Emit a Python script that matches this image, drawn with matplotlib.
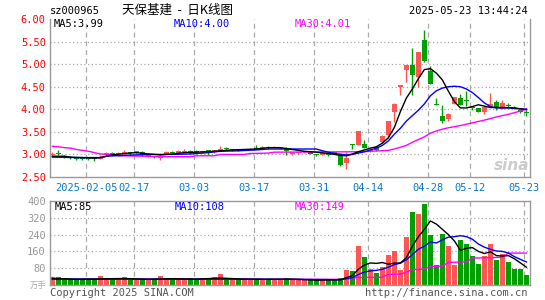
import matplotlib
matplotlib.use('Agg')
import matplotlib.pyplot as plt

W, H = 545, 300

# datas dos rótulos do eixo x (índice do pregão -> texto)
date_idx = [6, 14, 24, 34, 44, 53, 63, 70, 79]
date_lbl = ['2025-02-05', '02-17', '03-03', '03-17', '03-31', '04-14', '04-28', '05-12', '05-23']

# OHLC (80 pregões)
opens = [2.99, 3.03, 2.97, 2.95, 2.93, 2.92, 2.91, 2.92, 2.90, 2.98,
         3.04, 3.00, 3.02, 3.04, 3.03, 3.05, 2.95, 2.96, 2.93, 3.02,
         3.05, 3.04, 3.05, 3.06, 3.06, 3.05, 3.09, 3.05, 3.08, 3.15,
         3.09, 3.11, 3.10, 3.10, 3.15, 3.14, 3.17, 3.15, 3.14, 3.15,
         3.02, 3.03, 3.05, 3.06, 2.99, 2.99, 3.01, 3.05, 2.98, 2.80,
         3.22, 3.21, 3.22, 3.08, 3.17, 3.28, 3.43, 3.95, 4.50, 4.87,
         4.98, 4.71, 5.54, 4.85, 4.11, 3.85, 3.79, 4.12, 4.26, 4.21,
         4.05, 4.02, 3.93, 4.05, 4.17, 4.01, 4.10, 4.06, 3.98, 3.93]
highs = [3.05, 3.10, 2.98, 2.96, 2.94, 2.93, 2.92, 2.93, 2.99, 3.05,
         3.05, 3.05, 3.10, 3.06, 3.08, 3.07, 2.99, 2.97, 2.98, 3.07,
         3.08, 3.09, 3.11, 3.09, 3.09, 3.08, 3.10, 3.10, 3.19, 3.16,
         3.12, 3.12, 3.12, 3.14, 3.21, 3.18, 3.18, 3.19, 3.16, 3.16,
         3.06, 3.06, 3.08, 3.08, 3.00, 3.04, 3.02, 3.06, 3.01, 3.05,
         3.23, 3.51, 3.33, 3.12, 3.18, 3.42, 3.75, 4.13, 4.54, 4.99,
         5.35, 5.27, 5.76, 4.95, 4.24, 4.10, 3.92, 4.28, 4.33, 4.40,
         4.06, 4.03, 4.07, 4.35, 4.21, 4.21, 4.13, 4.07, 3.99, 3.98]
lows = [2.96, 2.98, 2.93, 2.90, 2.87, 2.87, 2.88, 2.85, 2.89, 2.97,
        2.99, 2.98, 3.01, 2.99, 3.02, 2.97, 2.94, 2.93, 2.88, 3.00,
        3.02, 3.03, 3.04, 3.02, 3.02, 3.04, 2.98, 3.04, 3.07, 3.10,
        3.08, 3.08, 3.09, 3.09, 3.12, 3.12, 3.13, 3.14, 3.13, 2.98,
        2.99, 3.01, 3.03, 3.01, 2.96, 2.98, 2.96, 3.01, 2.75, 2.67,
        3.13, 3.20, 3.14, 3.06, 3.07, 3.26, 3.37, 3.71, 4.32, 4.61,
        4.31, 4.50, 5.05, 4.55, 4.09, 3.70, 3.75, 4.11, 4.09, 4.07,
        3.98, 3.94, 3.89, 4.04, 3.99, 4.00, 4.05, 4.00, 3.92, 3.86]
closes = [3.01, 3.00, 2.95, 2.93, 2.90, 2.89, 2.90, 2.89, 2.95, 3.04,
          3.00, 3.04, 3.05, 3.03, 3.07, 3.01, 2.98, 2.94, 2.95, 3.06,
          3.03, 3.08, 3.07, 3.05, 3.05, 3.07, 3.05, 3.09, 3.13, 3.11,
          3.11, 3.09, 3.11, 3.13, 3.13, 3.16, 3.15, 3.17, 3.15, 3.07,
          3.05, 3.05, 3.06, 3.02, 2.98, 3.03, 2.99, 3.02, 2.76, 2.93,
          3.21, 3.51, 3.15, 3.10, 3.10, 3.41, 3.74, 4.12, 4.53, 4.98,
          4.76, 5.26, 5.06, 4.56, 4.10, 3.73, 3.89, 4.27, 4.10, 4.18,
          4.03, 3.95, 4.06, 4.12, 4.05, 4.14, 4.08, 4.04, 3.93, 3.92]

# volume (万手)
volumes = [36, 36, 25, 25, 25, 25, 25, 25, 44, 33,
           25, 25, 36, 25, 25, 25, 25, 25, 44, 33,
           25, 25, 25, 33, 25, 25, 33, 40, 52, 25,
           25, 25, 25, 25, 25, 25, 22, 28, 28, 33,
           26, 22, 22, 22, 22, 22, 22, 22, 33, 72,
           67, 185, 133, 75, 56, 86, 143, 161, 72, 227,
           349, 340, 387, 236, 95, 241, 188, 95, 216, 193,
           138, 99, 138, 193, 119, 150, 110, 75, 75, 47]

# médias móveis do preço
ma5_x = [0, 2, 3, 7, 8, 10, 12, 14, 16, 18, 20, 22, 24, 26, 28, 30, 32, 34, 36, 38,
         40, 42, 44, 46, 48, 49, 50, 51, 52, 53, 54, 55, 56, 57, 58, 59, 60, 61, 62, 63,
         64, 65, 66, 67, 68, 69, 70, 71, 72, 73, 75, 77, 79]
ma5_y = [2.96, 2.96, 2.94, 2.92, 2.93, 2.99, 3.02, 3.04, 3.01, 2.99, 3.01, 3.04, 3.05, 3.06, 3.08, 3.10, 3.11, 3.12, 3.15, 3.15,
         3.11, 3.07, 3.05, 3.02, 2.98, 2.97, 3.01, 3.06, 3.10, 3.14, 3.17, 3.25, 3.37, 3.60, 3.95, 4.25, 4.45, 4.68, 4.88, 4.90,
         4.80, 4.65, 4.40, 4.17, 4.03, 4.03, 4.06, 4.10, 4.07, 4.04, 4.04, 4.03, 3.99]
ma10_x = [0, 4, 8, 9, 12, 16, 20, 23, 26, 28, 31, 34, 36, 44, 45, 47, 49, 50, 52, 54,
          55, 56, 57, 58, 59, 60, 61, 62, 63, 64, 65, 66, 67, 68, 69, 70, 71, 72, 73, 74,
          76, 78, 79]
ma10_y = [2.94, 2.93, 2.93, 2.96, 2.98, 3.00, 3.00, 3.01, 3.04, 3.07, 3.08, 3.10, 3.12, 3.12, 3.08, 3.02, 2.99, 3.00, 3.06, 3.14,
          3.20, 3.30, 3.45, 3.58, 3.74, 3.86, 3.98, 4.12, 4.30, 4.41, 4.47, 4.50, 4.51, 4.50, 4.45, 4.37, 4.26, 4.14, 4.06, 4.03,
          4.03, 4.01, 4.00]
ma30_x = [0, 1, 2, 3, 4, 5, 6, 7, 8, 10, 11, 16, 17, 23, 24, 27, 28, 32, 33, 36,
          37, 52, 53, 56, 57, 58, 59, 60, 61, 62, 63, 64, 65, 66, 68, 70, 72, 74, 76, 78, 79]
ma30_y = [3.18, 3.17, 3.15, 3.14, 3.11, 3.09, 3.07, 3.04, 3.01, 3.00, 2.97, 2.96, 2.95, 2.95, 2.97, 2.97, 3.00, 3.00, 3.02, 3.03,
          3.05, 3.06, 3.07, 3.09, 3.12, 3.16, 3.20, 3.27, 3.33, 3.39, 3.47, 3.52, 3.56, 3.59, 3.64, 3.70, 3.76, 3.83, 3.89, 3.96, 4.01]

# médias móveis do volume
vma5_x = [0, 2, 4, 8, 12, 16, 20, 24, 28, 32, 36, 40, 44, 48, 49, 50, 51, 52, 53, 54,
          55, 56, 57, 58, 59, 60, 61, 62, 63, 64, 65, 66, 67, 68, 69, 70, 71, 72, 73, 74,
          75, 76, 77, 78, 79]
vma5_y = [30, 30, 27, 29, 31, 27, 30, 28, 33, 28, 27, 28, 23, 25, 35, 45, 75, 95, 105, 103,
          107, 99, 104, 105, 130, 185, 230, 265, 305, 290, 265, 240, 210, 165, 175, 178, 160, 150, 158, 140,
          138, 140, 125, 105, 85]
vma10_x = [0, 8, 16, 24, 32, 40, 48, 49, 50, 51, 52, 53, 54, 55, 56, 57, 58, 59, 60, 61,
           62, 63, 64, 65, 66, 67, 68, 69, 70, 71, 72, 73, 74, 75, 76, 77, 78, 79]
vma10_y = [28, 28, 28, 28, 28, 27, 25, 30, 35, 50, 62, 67, 70, 75, 85, 97, 104, 120, 145, 170,
           185, 205, 200, 215, 228, 230, 235, 230, 218, 195, 180, 170, 162, 160, 152, 135, 122, 110]
vma30_x = [0, 1, 48, 49, 50, 51, 55, 56, 58, 59, 60, 62, 63, 65, 66, 69, 70, 75, 76, 79]
vma30_y = [36, 28, 27, 28, 33, 36, 37, 50, 52, 62, 73, 76, 88, 90, 108, 110, 128, 132, 152, 152]

VERMELHO = '#ff5555'
VERDE = '#00a000'
MONO = 'DejaVu Sans Mono'


def px(x, y):
    return x / W, 1 - y / H


def estilo_eixo(ax):
    ax.set_xlim(0, 80)
    ax.tick_params(length=0)
    for s in ax.spines.values():
        s.set_color('#999999')
        s.set_linewidth(1)
    for x in date_idx:
        ax.axvline(x, color='#aaaaaa', ls=(0, (4, 3)), lw=0.9, zorder=0)


fig = plt.figure(figsize=(W / 100, H / 100), dpi=100)
ax = fig.add_axes([px(50, 177)[0], px(50, 177)[1], 480 / W, 158 / H])
axv = fig.add_axes([px(50, 285)[0], px(50, 285)[1], 480 / W, 84 / H])

# --- painel de preço ---
estilo_eixo(ax)
ax.spines['top'].set_visible(False)
ax.set_ylim(2.5, 6.0)
for y in [3.0, 3.5, 4.0, 4.5, 5.0, 5.5]:
    ax.axhline(y, color='#aaaaaa', ls=(0, (1, 2)), lw=0.9, zorder=0)

for i in range(len(opens)):
    o, h, l, c = opens[i], highs[i], lows[i], closes[i]
    cor = VERMELHO if c >= o else VERDE
    xc = i + 0.4
    ax.vlines(xc, l, h, color=cor, lw=1, zorder=2)
    ax.bar(xc, max(abs(c - o), 0.02), bottom=min(o, c), width=0.8,
           color=cor, linewidth=0, zorder=2)

ax.plot([x + 0.4 for x in ma30_x], ma30_y, color='#ff00ff', lw=1, zorder=3)
ax.plot([x + 0.4 for x in ma10_x], ma10_y, color='#0000ff', lw=1, zorder=3)
ax.plot([x + 0.4 for x in ma5_x], ma5_y, color='black', lw=1, zorder=3)

yt = [2.5, 3.0, 3.5, 4.0, 4.5, 5.0, 5.5, 6.0]
ax.set_yticks(yt)
ax.set_yticklabels([f'{v:.2f}' for v in yt], color='red', family=MONO, fontsize=7.5)
ax.set_xticks(date_idx)
ax.set_xticklabels(date_lbl, color='#0a78c8', family=MONO, fontsize=7.5)
ax.tick_params(axis='x', pad=4)
ax.tick_params(axis='y', pad=3)

# --- painel de volume ---
estilo_eixo(axv)
axv.set_ylim(0, 400)
for y in [80, 160, 240, 320]:
    axv.axhline(y, color='#aaaaaa', ls=(0, (1, 2)), lw=0.9, zorder=0)
cores_vol = [VERMELHO if closes[i] >= opens[i] else VERDE for i in range(len(volumes))]
axv.bar([i + 0.4 for i in range(len(volumes))], volumes, width=0.8,
        color=cores_vol, linewidth=0, zorder=2)
axv.plot([x + 0.4 for x in vma30_x], vma30_y, color='#ff00ff', lw=1, zorder=3)
axv.plot([x + 0.4 for x in vma10_x], vma10_y, color='#0000ff', lw=1, zorder=3)
axv.plot([x + 0.4 for x in vma5_x], vma5_y, color='black', lw=1, zorder=3)
vt = [80, 160, 240, 320, 400]
axv.set_yticks(vt)
axv.set_yticklabels([str(v) for v in vt], color='#999999', family=MONO, fontsize=7.5)
axv.tick_params(axis='y', pad=3)
axv.set_xticks([])

# --- textos ---
fig.text(*px(50, 11), 'sz000965', family=MONO, fontsize=7.5, va='center')
fig.text(*px(178, 10), '天保基建  -  日K线图', family=['Noto Sans CJK SC', 'DejaVu Sans'],
         fontsize=9, ha='center', va='center')
fig.text(*px(528, 11), '2025-05-23 13:44:24', family=MONO, fontsize=7.5, ha='right', va='center')

fig.text(*px(54, 24), 'MA5:3.99', family=MONO, fontsize=7.5, va='center', color='black')
fig.text(*px(174, 24), 'MA10:4.00', family=MONO, fontsize=7.5, va='center', color='#0000ff')
fig.text(*px(295, 24), 'MA30:4.01', family=MONO, fontsize=7.5, va='center', color='#ff00ff')

fig.text(*px(55, 207), 'MA5:85', family=MONO, fontsize=7.5, va='center', color='black')
fig.text(*px(175, 207), 'MA10:108', family=MONO, fontsize=7.5, va='center', color='#0000ff')
fig.text(*px(295, 207), 'MA30:149', family=MONO, fontsize=7.5, va='center', color='#ff00ff')

fig.text(*px(46, 285), '万手', family=['Noto Sans CJK SC', 'DejaVu Sans'], fontsize=6,
         ha='right', va='center', color='#aaaaaa')
fig.text(*px(50, 293), 'Copyright 2025 SINA.COM', family=MONO, fontsize=7.5,
         va='center', color='#555555')
fig.text(*px(528, 293), 'http://finance.sina.com.cn', family=MONO, fontsize=7.5,
         ha='right', va='center', color='#555555')

# marca d'água
fig.text(*px(512, 165), 'sina', fontsize=11, fontweight='bold', style='italic',
         ha='center', va='center', color='#cccccc')

fig.savefig('out.png', dpi=100)
